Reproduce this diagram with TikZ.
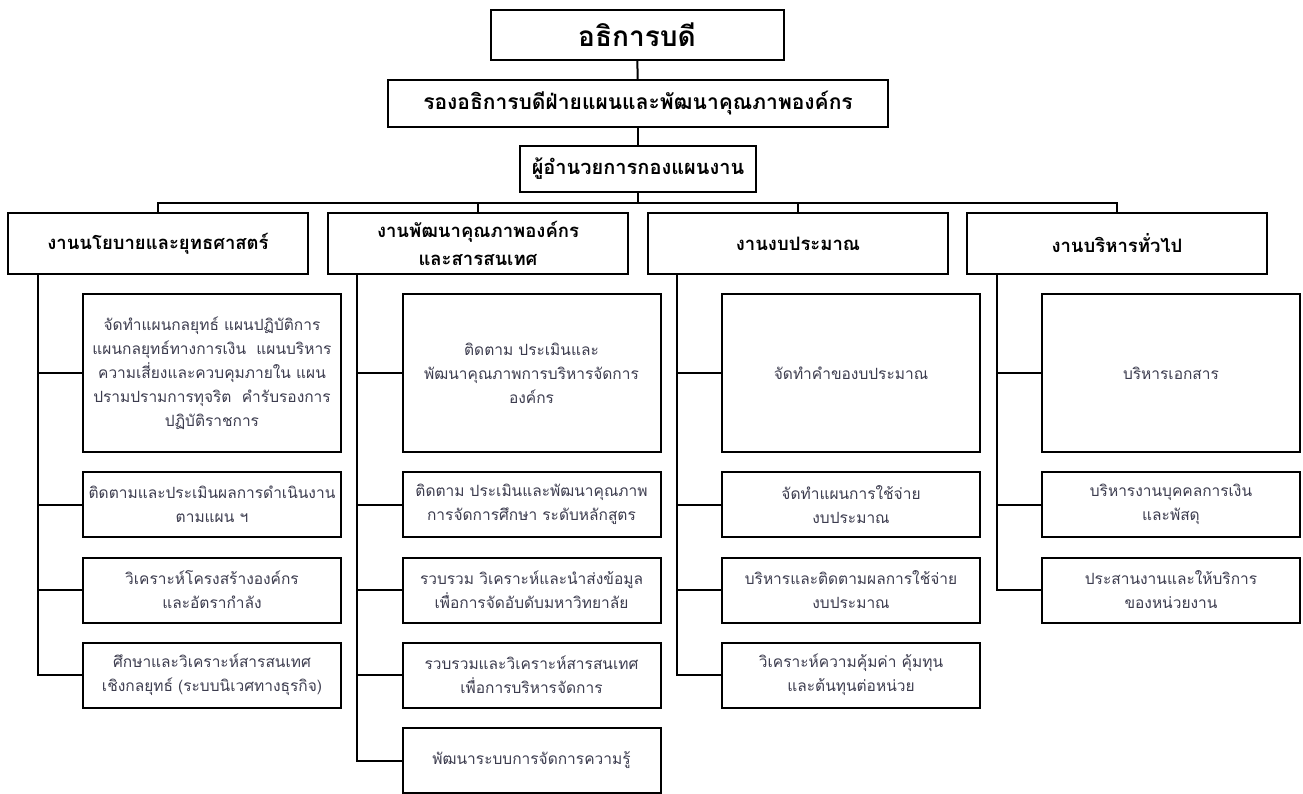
\documentclass[tikz,border=0pt]{standalone}
\usepackage{fontspec}
\newfontfamily\thaifont[Script=Thai]{Loma}
\usetikzlibrary{positioning}
\definecolor{txtgray}{RGB}{60,60,78}

\begin{document}
\begin{tikzpicture}[x=1pt, y=-1pt, line width=2pt,
		every node/.style={draw, align=center, inner sep=1pt, font=\thaifont},
		head/.style={minimum width=300pt, minimum height=61pt, font=\thaifont\bfseries\fontsize{18.5}{28}\selectfont},
		sub/.style={minimum width=258pt, minimum height=65pt, text width=256pt, text=txtgray, font=\thaifont\fontsize{15.5}{24}\selectfont}]
			\useasboundingbox (0,0) rectangle (1303,794);
			% top levels
			\node (top) at (637,35) [minimum width=293pt, minimum height=50pt, font=\thaifont\bfseries\fontsize{28}{32}\selectfont] {อธิการบดี};
			\node (vice) at (638,103.5) [minimum width=500pt, minimum height=47pt, font=\thaifont\bfseries\fontsize{21}{24}\selectfont] {รองอธิการบดีฝ่ายแผนและพัฒนาคุณภาพองค์กร};
			\node (dir) at (638,169) [minimum width=236pt, minimum height=46pt, font=\thaifont\bfseries\fontsize{20}{24}\selectfont] {ผู้อำนวยการกองแผนงาน};
			\coordinate (bus) at (638,203);

			% section heads
			\node[head] (h1) at (158,243.5) {งานนโยบายและยุทธศาสตร์};
			\node[head] (h2) at (478,243.5) {งานพัฒนาคุณภาพองค์กร\\และสารสนเทศ};
			\node[head] (h3) at (798,243.5) {งานงบประมาณ};
			\node[head] (h4) at (1117,243.5) {งานบริหารทั่วไป};

			% column 1
			\node[sub, minimum height=158pt] (a1) at (212,373) {จัดทำแผนกลยุทธ์ แผนปฏิบัติการ\\แผนกลยุทธ์ทางการเงิน\ \ แผนบริหาร\\ความเสี่ยงและควบคุมภายใน แผน\\ปรามปรามการทุจริต\ \ คำรับรองการ\\ปฏิบัติราชการ};
			\node[sub] (a2) at (212,504.5) {ติดตามและประเมินผลการดำเนินงาน\\ตามแผน ฯ};
			\node[sub] (a3) at (212,590) {วิเคราะห์โครงสร้างองค์กร\\และอัตรากำลัง};
			\node[sub] (a4) at (212,675) {ศึกษาและวิเคราะห์สารสนเทศ\\เชิงกลยุทธ์ (ระบบนิเวศทางธุรกิจ)};

			% column 2
			\node[sub, minimum height=158pt] (b1) at (531.5,373) {ติดตาม ประเมินและ\\พัฒนาคุณภาพการบริหารจัดการ\\องค์กร};
			\node[sub] (b2) at (531.5,504.5) {ติดตาม ประเมินและพัฒนาคุณภาพ\\การจัดการศึกษา ระดับหลักสูตร};
			\node[sub] (b3) at (531.5,590) {รวบรวม วิเคราะห์และนำส่งข้อมูล\\เพื่อการจัดอับดับมหาวิทยาลัย};
			\node[sub] (b4) at (531.5,675) {รวบรวมและวิเคราะห์สารสนเทศ\\เพื่อการบริหารจัดการ};
			\node[sub] (b5) at (531.5,760.5) {พัฒนาระบบการจัดการความรู้};

			% column 3
			\node[sub, minimum height=158pt] (c1) at (851,373) {จัดทำคำของบประมาณ};
			\node[sub] (c2) at (851,504.5) {จัดทำแผนการใช้จ่าย\\งบประมาณ};
			\node[sub] (c3) at (851,590) {บริหารและติดตามผลการใช้จ่าย\\งบประมาณ};
			\node[sub] (c4) at (851,675) {วิเคราะห์ความคุ้มค่า คุ้มทุน\\และต้นทุนต่อหน่วย};

			% column 4
			\node[sub, minimum height=158pt] (d1) at (1171,373) {บริหารเอกสาร};
			\node[sub] (d2) at (1171,504.5) {บริหารงานบุคคลการเงิน\\และพัสดุ};
			\node[sub] (d3) at (1171,590) {ประสานงานและให้บริการ\\ของหน่วยงาน};

			% connectors
			\draw (top) -- (vice);
			\draw (vice) -- (dir);
			\draw (dir) -- (bus);
			\foreach \h in {h1,h2,h3,h4}
				\draw (bus) -| (\h.north);
			\foreach \s in {a1,a2,a3,a4}
				\draw ([xshift=31pt]h1.south west) |- (\s.west);
			\foreach \s in {b1,b2,b3,b4,b5}
				\draw ([xshift=30pt]h2.south west) |- (\s.west);
			\foreach \s in {c1,c2,c3,c4}
				\draw ([xshift=30pt]h3.south west) |- (\s.west);
			\foreach \s in {d1,d2,d3}
				\draw ([xshift=31pt]h4.south west) |- (\s.west);
		\end{tikzpicture}
\end{document}
